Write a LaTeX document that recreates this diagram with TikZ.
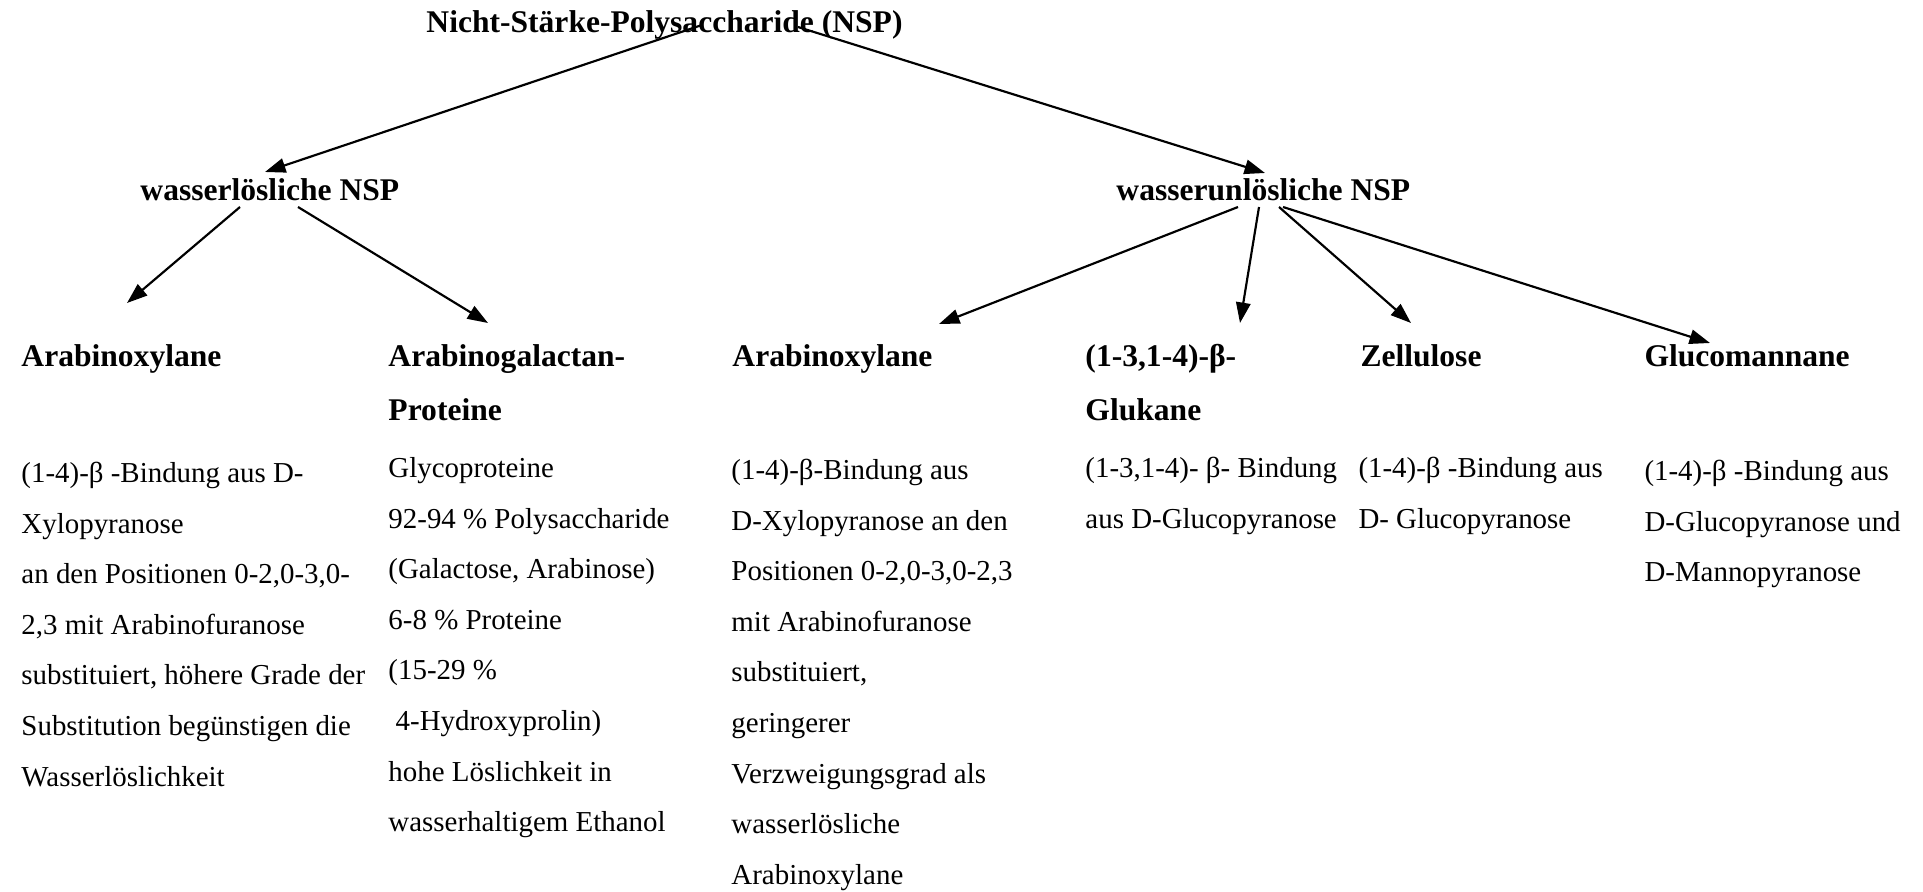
\documentclass[tikz,border=0pt]{standalone}
\usepackage{fontspec}
\setmainfont{Liberation Serif}
\usepackage{tikz}
\usetikzlibrary{arrows.meta,calc}

\begin{document}
\begin{tikzpicture}[x=0.415pt,y=-0.415pt,
  kopf/.style={anchor=base west,inner sep=0pt,align=left,font={\fontsize{13.1}{22.4}\selectfont\bfseries}},
  inhalt/.style={anchor=north west,inner sep=0pt,align=left,font={\fontsize{12}{21}\selectfont}},
  pfeil/.style={-{Triangle[length=8.5pt,width=6pt]},line width=0.9pt}]
\useasboundingbox (0,0) rectangle (1923,892);

\node[kopf] (nsp) at (426,33) {Nicht-Stärke-Polysaccharide (NSP)};
\node[kopf] (wl) at (140,200) {wasserlösliche NSP};
\node[kopf] (wu) at (1116,200) {wasserunlösliche NSP};

\node[kopf] (ax1) at (21,366) {Arabinoxylane};
\node[kopf,anchor=north west] (agp) at (388,328.2) {\strut Arabinogalactan-\\Proteine};
\node[kopf] (ax2) at (732,366) {Arabinoxylane};
\node[kopf,anchor=north west] (glu) at (1085,328.2) {\strut(1-3,1-4)-β-\\Glukane};
\node[kopf] (zel) at (1360,366) {Zellulose};
\node[kopf] (gm) at (1644,366) {Glucomannane};

\node[inhalt] (ax1txt) at (21,446.6) {\strut(1-4)-β -Bindung aus D-\\Xylopyranose\\an den Positionen 0-2,0-3,0-\\2,3 mit Arabinofuranose\\substituiert, höhere Grade der\\Substitution begünstigen die\\Wasserlöslichkeit};
\node[inhalt] (agptxt) at (388,441.6) {\strut Glycoproteine\\92-94 \% Polysaccharide\\(Galactose, Arabinose)\\6-8 \% Proteine\\(15-29 \%\\\hspace*{3pt}4-Hydroxyprolin)\\hohe Löslichkeit in\\wasserhaltigem Ethanol};
\node[inhalt] (ax2txt) at (731,443.6) {\strut(1-4)-β-Bindung aus\\D-Xylopyranose an den\\Positionen 0-2,0-3,0-2,3\\mit Arabinofuranose\\substituiert,\\geringerer\\Verzweigungsgrad als\\wasserlösliche\\Arabinoxylane};
\node[inhalt] (glutxt) at (1085,441.6) {\strut(1-3,1-4)- β- Bindung\\aus D-Glucopyranose};
\node[inhalt] (zeltxt) at (1358,441.6) {\strut(1-4)-β -Bindung aus\\D- Glucopyranose};
\node[inhalt] (gmtxt) at (1644,444.6) {\strut(1-4)-β -Bindung aus\\D-Glucopyranose und\\D-Mannopyranose};

\draw[pfeil] ($(nsp.base west)+(276,-8)$) -- ($(wl.base west)+(125,-28)$);
\draw[pfeil] ($(nsp.base west)+(372,-6)$) -- ($(wu.base west)+(149,-27)$);
\draw[pfeil] ($(wl.base west)+(100,7)$) -- ($(ax1.base west)+(106,-63)$);
\draw[pfeil] ($(wl.base west)+(158,7)$) -- ($(agp.north west)+(100,-5.2)$);
\draw[pfeil] ($(wu.base west)+(122,7)$) -- ($(ax2.base west)+(207,-42)$);
\draw[pfeil] ($(wu.base west)+(143,7)$) -- ($(glu.north west)+(155,-5.2)$);
\draw[pfeil] ($(wu.base west)+(163,7)$) -- ($(zel.base west)+(51,-43)$);
\draw[pfeil] ($(wu.base west)+(167,7)$) -- ($(gm.base west)+(66,-23)$);
\end{tikzpicture}
\end{document}
